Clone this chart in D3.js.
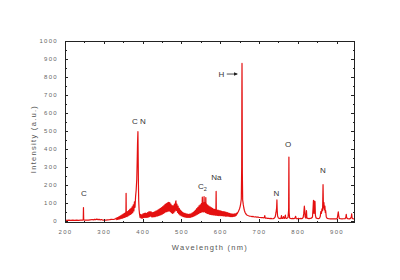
<!DOCTYPE html>
<html>
<head>
<meta charset="utf-8">
<script src="https://cdn.jsdelivr.net/npm/d3@7"></script>
<style>
body{margin:0;background:#fff;}
svg{display:block;font-family:"Liberation Sans",Arial,sans-serif;}
.tick text{fill:#666;font-size:6px;letter-spacing:1.3px;}
.axis path,.axis line{stroke:#222;shape-rendering:crispEdges;}
.title{fill:#555;font-size:7.5px;letter-spacing:1.3px;}
.peak{fill:#333;font-size:8px;}
</style>
</head>
<body>
<div id="chart"></div>
<script>
// spectrum in pieces [wavelength nm, intensity a.u.]
var uvRegion = [[200,2],[205,1],[210,2],[215,1],[220,2],[225,1],[230,2],[235,1],[240,2],[245,2],[247,3],[247.6,72],[248.2,3],[250,2],[255,3],[260,2],[265,4],[270,6],[273,4],[276,7],[279,5],[282,8],[285,5],[288,7],[291,4],[294,6],[297,3],[300,3],[305,2],[310,4],[315,5],[320,7],[325,6],[330,9]];

var cnRegion = [[332,14],[333.5,5],[335,16],[336.5,6],[338,20],[339.5,8],[341,24],[342.5,10],[344,28],[345.5,12],[347,32],[348.5,14],[350,36],[351.5,16],[353,40],[354.5,18],[356,44],[357,22],[357.5,152],[358,24],[359.5,22],[361,50],[362.5,26],[364,56],[365.5,30],[367,62],[368.5,34],[370,68],[371.5,38],[373,76],[374.5,44],[376,88],[377.5,54],[379,104],[380.5,74],[382,135],[383.5,170],[385,230],[386,320],[387,430],[388,495],[388.6,360],[389.3,200],[390,110],[391,60],[392,38],[393.5,18],[395,34],[396.5,14],[398,32],[399.5,14]];

var bandRegion = [[401,38],[402.5,16],[404,40],[405.5,17],[407,42],[408.5,18],[410,40],[411.5,17],[413,44],[414.5,19],[416,48],[417.5,22],[419,50],[420.5,24],[422,48],[423.5,21],[425,44],[426.5,20],[428,46],[429.5,21],[431,48],[432.5,22],[434,52],[435.5,24],[437,56],[438.5,26],[440,60],[441.5,28],[443,64],[444.5,30],[446,68],[447.5,33],[449,72],[450.5,36],[452,78],[453.5,40],[455,84],[456.5,44],[458,90],[459.5,48],[461,94],[462.5,50],[464,98],[465.5,52],[467,102],[468.5,54],[470,100],[471.5,50],[473,92],[474.5,44],[476,84],[477.5,40],[479,82],[480.5,44],[482,92],[483.5,52],[485,102],[486,110],[487,56],[488.5,92],[490,46],[491.5,80],[493,38],[494.5,68],[496,32],[497.5,58],[499,28],[500.5,52],[502,24],[503.5,46],[505,22],[506.5,42],[508,20],[509.5,40],[511,19],[512.5,38],[514,18],[515.5,36],[517,17],[518.5,35],[520,17],[521.5,36],[523,18],[524.5,38],[526,20],[527.5,42],[529,22]];

var c2Region = [[530.5,46],[532,24],[533.5,52],[535,27],[536.5,58],[538,31],[539.5,66],[541,35],[542.5,74],[544,39],[545.5,82],[547,42],[548.5,88],[550,45],[551.5,94],[553,48],[554,130],[554.8,50],[556,98],[557.5,48],[558.5,134],[559.3,50],[560.5,100],[562,46],[563,128],[563.8,44],[565,92],[566.5,40],[568,86],[569.5,38],[571,80],[572.5,36],[574,76],[575.5,34],[577,72],[578.5,33],[580,68],[581.5,32],[583,64],[584.5,31],[586,62],[587.5,30],[589,60],[589.6,162],[590.2,30],[591.5,58],[593,29],[594.5,58],[596,28],[597.5,56],[599,28],[600.5,54],[602,27],[603.5,52],[605,27],[606.5,50],[608,26],[609.5,50],[611,26],[612.5,48],[614,25],[615.5,46],[617,25],[618.5,44],[620,24],[621.5,42],[623,23],[624.5,40],[626,22],[627.5,38],[629,22],[630.5,37],[632,22],[633.5,36],[635,23],[636.5,37],[638,24],[639.5,38],[641,28],[642.5,42],[644,38]];

var hRegion = [[645.5,46],[647,50],[648.5,58],[650,66],[651.5,78],[653,95],[654.5,120],[655.5,300],[656,730],[656.3,875],[656.6,720],[657.2,260],[658,115],[659.5,90],[661,70],[662.5,56],[664,46],[666,38],[668,33],[670,30],[673,27],[676,25],[679,24],[682,22],[685,23],[688,20],[691,21],[694,19],[697,20],[700,18],[703,17],[706,16],[709,17],[712,15],[714,18],[715,28],[716,14],[719,14],[722,12],[725,13],[728,11],[731,12],[734,10],[737,11],[740,14],[742,22],[744,45],[745.5,70],[746.3,115],[747,60],[748,25],[750,15],[752,12],[755,11],[757,14],[758,28],[759,12]];

var nirRegion = [[761,12],[763,22],[764,13],[766,12],[768,30],[769,14],[771,12],[773,14],[775,18],[776.5,60],[777.2,354],[777.8,45],[779,14],[781,12],[784,11],[787,12],[790,10],[793,14],[794.5,24],[796,11],[799,10],[802,12],[805,10],[808,12],[810,10],[812,12],[814,18],[815.5,40],[817,80],[818,60],[819,20],[821,14],[822.5,55],[823.5,15],[826,12],[829,11],[832,12],[835,13],[838,20],[839.5,70],[840.5,112],[842,40],[843.5,108],[844.5,105],[845.5,30],[847,15],[850,12],[853,11],[856,13],[858,22],[859.5,50],[861,40],[862.5,65],[864,55],[865.2,200],[866.2,70],[867.5,100],[868.5,60],[870,80],[871,45],[872,55],[873.5,20],[876,12],[880,10],[884,9],[888,10],[892,9],[896,10],[900,9],[902,14],[903.5,35],[904.5,48],[905.5,30],[907,12],[910,10],[914,9],[918,10],[922,11],[924,18],[925,35],[926,16],[929,10],[933,9],[936,12],[938,20],[939,38],[940,15],[942,10],[945,9]];

var xTicks = [200,300,400,500,600,700,800,900];
var xMinor = [250,350,450,550,650,750,850];
var yTicks = [0,100,200,300,400,500,600,700,800,900,1000];
var yMinor = [50,150,250,350,450,550,650,750,850,950];

// line labels: text, wavelength, intensity (centre of the text)
var peakLabels = [
  {t:"C", wl:249, v:155},
  {t:"C N", wl:390.5, v:555},
  {t:"Na", wl:590, v:244},
  {t:"H", wl:603, v:816},
  {t:"N", wl:745, v:155},
  {t:"O", wl:775, v:425},
  {t:"N", wl:865, v:282}
];

var spectrum = uvRegion.concat(cnRegion, bandRegion, c2Region, hRegion, nirRegion);

var W = 400, H = 280;
var svg = d3.select("#chart").append("svg").attr("width", W).attr("height", H);

var x = d3.scaleLinear().domain([200, 945]).range([65, 354]);
var y = d3.scaleLinear().domain([-8, 1000]).range([222, 41]);

// spectrum line
var line = d3.line()
  .x(function(d){return x(d[0]);})
  .y(function(d){return y(d[1]);});

svg.append("path")
  .datum(spectrum)
  .attr("fill","none")
  .attr("stroke","#e41010")
  .attr("stroke-width",1.2)
  .attr("stroke-linejoin","round")
  .attr("d", line);

// axes, ticks inward
var fmt = d3.format("d");
svg.append("g").attr("class","axis").attr("transform","translate(0,222)")
  .call(d3.axisBottom(x).tickValues(xTicks).tickFormat(fmt).tickSizeInner(-3).tickSizeOuter(0).tickPadding(8));
svg.append("g").attr("class","axis").attr("transform","translate(0,222)")
  .call(d3.axisBottom(x).tickValues(xMinor).tickSizeInner(-1.5).tickSizeOuter(0).tickFormat(""));
svg.append("g").attr("class","axis").attr("transform","translate(0,41)")
  .call(d3.axisTop(x).tickValues(xTicks).tickSizeInner(-3).tickSizeOuter(0).tickFormat(""));
svg.append("g").attr("class","axis").attr("transform","translate(0,41)")
  .call(d3.axisTop(x).tickValues(xMinor).tickSizeInner(-1.5).tickSizeOuter(0).tickFormat(""));

svg.append("g").attr("class","axis").attr("transform","translate(65,0)")
  .call(d3.axisLeft(y).tickValues(yTicks).tickFormat(fmt).tickSizeInner(-3).tickSizeOuter(0).tickPadding(7));
svg.append("g").attr("class","axis").attr("transform","translate(65,0)")
  .call(d3.axisLeft(y).tickValues(yMinor).tickSizeInner(-1.5).tickSizeOuter(0).tickFormat(""));
svg.append("g").attr("class","axis").attr("transform","translate(354,0)")
  .call(d3.axisRight(y).tickValues(yTicks).tickSizeInner(-3).tickSizeOuter(0).tickFormat(""));
svg.append("g").attr("class","axis").attr("transform","translate(354,0)")
  .call(d3.axisRight(y).tickValues(yMinor).tickSizeInner(-1.5).tickSizeOuter(0).tickFormat(""));

// frame
svg.append("rect")
  .attr("x",65).attr("y",41).attr("width",289).attr("height",181)
  .attr("fill","none").attr("stroke","#222").attr("stroke-width",1)
  .attr("shape-rendering","crispEdges");

// titles
svg.append("text").attr("class","title")
  .attr("x",210).attr("y",250).attr("text-anchor","middle")
  .text("Wavelength (nm)");
svg.append("text").attr("class","title")
  .attr("transform","translate(36,139) rotate(-90)")
  .attr("text-anchor","middle")
  .text("Intensity (a.u.)");

// peak labels
var lab = svg.append("g").attr("opacity",0.99);
lab.selectAll(".peak")
  .data(peakLabels)
  .enter()
  .append("text")
  .attr("class","peak")
  .attr("x",function(d){return x(d.wl);})
  .attr("y",function(d){return y(d.v);})
  .attr("dy",".35em")
  .attr("text-anchor","middle")
  .text(function(d){return d.t;});

// C2 with subscript
var c2 = lab.append("text").attr("class","peak")
  .attr("x",x(554)).attr("y",y(193)).attr("dy",".35em").attr("text-anchor","middle");
c2.append("tspan").text("C");
c2.append("tspan").attr("font-size","5.5px").attr("dy","2").text("2");

// arrow to H line
var ay = y(816);
svg.append("line")
  .attr("x1",x(617)).attr("x2",x(643)).attr("y1",ay).attr("y2",ay)
  .attr("stroke","#222").attr("stroke-width",0.8);
svg.append("path")
  .attr("d","M"+x(646)+","+ay+"l-4,-1.8l0,3.6z")
  .attr("fill","#222");
</script>
</body>
</html>
